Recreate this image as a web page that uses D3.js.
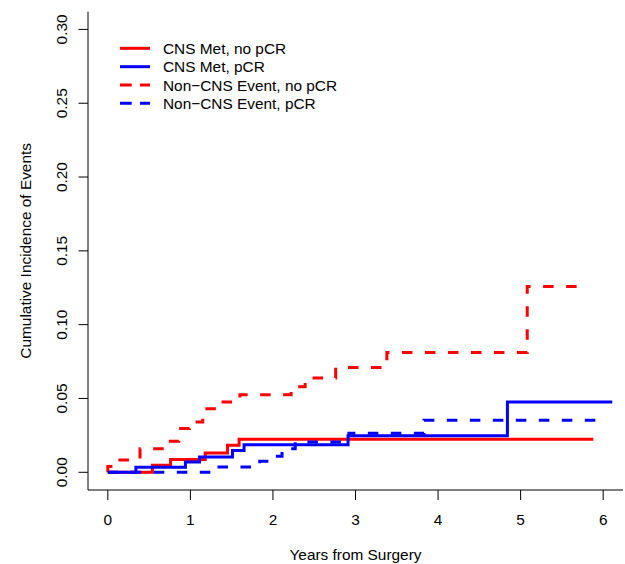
<!DOCTYPE html>
<html>
<head>
<meta charset="utf-8">
<script src="https://cdn.jsdelivr.net/npm/d3@7"></script>
<style>
  body { margin: 0; background: #fff; }
  svg text { font-family: "Liberation Sans", Arial, Helvetica, sans-serif; fill: #000; }
</style>
</head>
<body>
<svg id="chart" width="625" height="564"></svg>
<script>
// step data (years, cumulative incidence)
var cnsNoPcrTime = [0, 0.54, 0.76, 1.18, 1.45, 1.59, 5.88];
var cnsNoPcrCI   = [0, 0.0047, 0.0086, 0.0131, 0.0183, 0.0224, 0.0224];

var cnsPcrTime = [0, 0.34, 0.94, 1.11, 1.51, 1.65, 2.91, 4.84, 6.11];
var cnsPcrCI   = [0, 0.0034, 0.007, 0.0104, 0.0147, 0.0187, 0.0248, 0.0476, 0.0476];

var nonCnsNoPcrTime = [0, 0, 0.08, 0.39, 0.72, 0.86, 0.99, 1.15, 1.35, 1.6, 2.22, 2.39, 2.76, 3.38, 5.08, 5.78];
var nonCnsNoPcrCI   = [0, 0.004, 0.0084, 0.016, 0.021, 0.0296, 0.034, 0.043, 0.0476, 0.0526, 0.058, 0.0639, 0.071, 0.0812, 0.1258, 0.1258];

var nonCnsPcrTime = [0, 1.28, 1.84, 2.0, 2.11, 2.27, 2.92, 3.83, 6.0];
var nonCnsPcrCI   = [0, 0.0036, 0.0074, 0.0108, 0.016, 0.0206, 0.0264, 0.0352, 0.0352];

var seriesNames = ["CNS Met, no pCR", "CNS Met, pCR", "Non\u2212CNS Event, no pCR", "Non\u2212CNS Event, pCR"];
var seriesColors = ["#ff0000", "#0000ff", "#ff0000", "#0000ff"];
var seriesDashed = [false, false, true, true];

var xTicks = [0, 1, 2, 3, 4, 5, 6];
var yTicks = [0, 0.05, 0.10, 0.15, 0.20, 0.25, 0.30];

var svg = d3.select("#chart");
var plotLeft = 88, plotRight = 623, plotTop = 11.7, plotBottom = 490;
var fontSize = 15.4;
var dash = "10.5,12.5";

var xScale = d3.scaleLinear().domain([-0.24, 6.24]).range([plotLeft, plotRight]);
var yScale = d3.scaleLinear().domain([-0.012, 0.312]).range([plotBottom, plotTop]);

var series = [
  {time: cnsNoPcrTime, ci: cnsNoPcrCI},
  {time: cnsPcrTime, ci: cnsPcrCI},
  {time: nonCnsNoPcrTime, ci: nonCnsNoPcrCI},
  {time: nonCnsPcrTime, ci: nonCnsPcrCI}
];

var stepLine = d3.line()
  .x(function(d) { return xScale(d[0]); })
  .y(function(d) { return yScale(d[1]); })
  .curve(d3.curveStepAfter);

series.forEach(function(s, i) {
  var pts = s.time.map(function(t, j) { return [t, s.ci[j]]; });
  svg.append("path")
    .datum(pts)
    .attr("d", stepLine)
    .attr("fill", "none")
    .attr("stroke", seriesColors[i])
    .attr("stroke-width", 3)
    .attr("stroke-dasharray", seriesDashed[i] ? dash : null);
});

// L shaped box
svg.append("path")
  .attr("d", "M" + plotLeft + "," + plotTop + "V" + plotBottom + "H" + plotRight)
  .attr("fill", "none")
  .attr("stroke", "#000")
  .attr("stroke-width", 1);

// x axis ticks and labels
svg.append("g").selectAll("line")
  .data(xTicks).enter().append("line")
  .attr("x1", function(d) { return xScale(d); })
  .attr("x2", function(d) { return xScale(d); })
  .attr("y1", plotBottom)
  .attr("y2", plotBottom + 10)
  .attr("stroke", "#000");

svg.append("g").selectAll("text")
  .data(xTicks).enter().append("text")
  .attr("x", function(d) { return xScale(d); })
  .attr("y", 525)
  .attr("text-anchor", "middle")
  .attr("font-size", fontSize)
  .text(function(d) { return d; });

// y axis ticks and labels
svg.append("g").selectAll("line")
  .data(yTicks).enter().append("line")
  .attr("x1", plotLeft)
  .attr("x2", plotLeft - 9.5)
  .attr("y1", function(d) { return yScale(d); })
  .attr("y2", function(d) { return yScale(d); })
  .attr("stroke", "#000");

svg.append("g").selectAll("text")
  .data(yTicks).enter().append("text")
  .attr("transform", function(d) { return "translate(66.5," + yScale(d) + ")rotate(-90)"; })
  .attr("text-anchor", "middle")
  .attr("font-size", fontSize)
  .text(function(d) { return d3.format(".2f")(d); });

// axis titles
svg.append("text")
  .attr("x", (plotLeft + plotRight) / 2)
  .attr("y", 560)
  .attr("text-anchor", "middle")
  .attr("font-size", fontSize)
  .text("Years from Surgery");

svg.append("text")
  .attr("transform", "translate(30.5," + (plotTop + plotBottom) / 2 + ")rotate(-90)")
  .attr("text-anchor", "middle")
  .attr("font-size", fontSize)
  .text("Cumulative Incidence of Events");

// legend
var legendY = [48.3, 66.7, 85, 103.3];
var legend = svg.append("g");
seriesNames.forEach(function(name, i) {
  legend.append("line")
    .attr("x1", 120).attr("x2", 150)
    .attr("y1", legendY[i]).attr("y2", legendY[i])
    .attr("stroke", seriesColors[i])
    .attr("stroke-width", 3)
    .attr("stroke-dasharray", seriesDashed[i] ? "11.7,8.3" : null);
  legend.append("text")
    .attr("x", 163)
    .attr("y", legendY[i] + 5.5)
    .attr("font-size", fontSize)
    .text(name);
});
</script>
</body>
</html>
